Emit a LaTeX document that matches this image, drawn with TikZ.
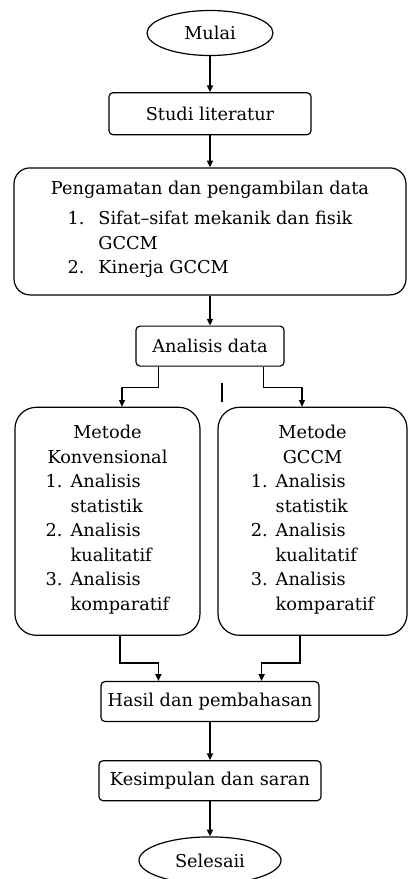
\documentclass[tikz,border=0pt]{standalone}
\usepackage{fontspec}
\setmainfont{DejaVu Serif}
\usetikzlibrary{arrows.meta, positioning, shapes.geometric, calc}

\begin{document}
\begin{tikzpicture}[
  flow/.style={line width=0.9pt, -{Triangle[length=5pt,width=4.5pt]}},
  link/.style={line width=0.9pt},
  box/.style={
    draw,
    line width=0.9pt,
    rectangle,
    rounded corners=3pt,
    inner sep=0pt,
    align=center,
    font=\fontsize{13.3}{18.4}\selectfont
  },
  terminal/.style={box, ellipse},
  branch/.style={box, rounded corners=16pt, minimum height=171pt}
]

  \useasboundingbox (-157.5pt,24.75pt) rectangle (148.5pt,-634.5pt);

  % main column
  \node[terminal, minimum width=94.5pt, minimum height=33.75pt] (mulai) {Mulai};
  \node[box, below=27pt of mulai, minimum width=151.5pt, minimum height=31.5pt] (studi) {Studi literatur};
  \node[box, below=24pt of studi, rounded corners=12pt, minimum width=294pt, minimum height=95.25pt] (pengamatan)
    {Pengamatan dan pengambilan data\\[4pt]
     \begin{tabular}[t]{@{}l@{\hspace{10.5pt}}l@{}}
       1. & Sifat–sifat mekanik dan fisik\\
          & GCCM\\
       2. & Kinerja GCCM
     \end{tabular}};
  \node[box, below=22.5pt of pengamatan, minimum width=111pt, minimum height=30pt] (analisis) {Analisis data};

  % two methods
  \node[branch, below=30pt of analisis, xshift=-76.9pt, minimum width=138.75pt] (konv)
    {Metode\\ Konvensional\\
     \begin{tabular}[t]{@{}l@{\hspace{6pt}}l@{}}
       1. & Analisis\\
          & statistik\\
       2. & Analisis\\
          & kualitatif\\
       3. & Analisis\\
          & komparatif
     \end{tabular}};
  \node[branch, below=30pt of analisis, xshift=76.9pt, minimum width=141.75pt] (gccm)
    {Metode\\ GCCM\\
     \begin{tabular}[t]{@{}l@{\hspace{6pt}}l@{}}
       1. & Analisis\\
          & statistik\\
       2. & Analisis\\
          & kualitatif\\
       3. & Analisis\\
          & komparatif
     \end{tabular}};

  \coordinate (join) at (konv.south -| analisis.south);
  \node[box, below=33.75pt of join, minimum width=163.5pt, minimum height=30pt] (hasil) {Hasil dan pembahasan};
  \node[box, below=28.5pt of hasil, minimum width=166.5pt, minimum height=30pt] (kesimpulan) {Kesimpulan dan saran};
  \node[terminal, below=26.25pt of kesimpulan, minimum width=106.5pt, minimum height=35.25pt] (selesai) {Selesaii};

  % straight arrows
  \draw[flow] (mulai) -- (studi);
  \draw[flow] (studi) -- (pengamatan);
  \draw[flow] (pengamatan) -- (analisis);
  \draw[flow] (hasil) -- (kesimpulan);
  \draw[flow] (kesimpulan) -- (selesai);

  % split into the two methods
  \draw[flow] ([xshift=17.25pt]analisis.south west) -- ++(0,-15.75pt) -| ([xshift=10.9pt]konv.north);
  \draw[flow] ([xshift=-15.75pt]analisis.south east) -- ++(0,-15.75pt) -| ([xshift=-7.9pt]gccm.north);

  % stray tick between the branches
  \coordinate (tick) at ([xshift=9pt,yshift=-12pt]analisis.south);
  \draw[link] (tick) -- ++(0,-14.25pt);

  % merge into the results
  \draw[flow] ([xshift=9.4pt]konv.south) -- ++(0,-20.25pt) -| ([xshift=43.5pt]hasil.north west);
  \draw[flow] ([xshift=-9.4pt]gccm.south) -- ++(0,-20.25pt) -| ([xshift=-43.5pt]hasil.north east);

\end{tikzpicture}
\end{document}
